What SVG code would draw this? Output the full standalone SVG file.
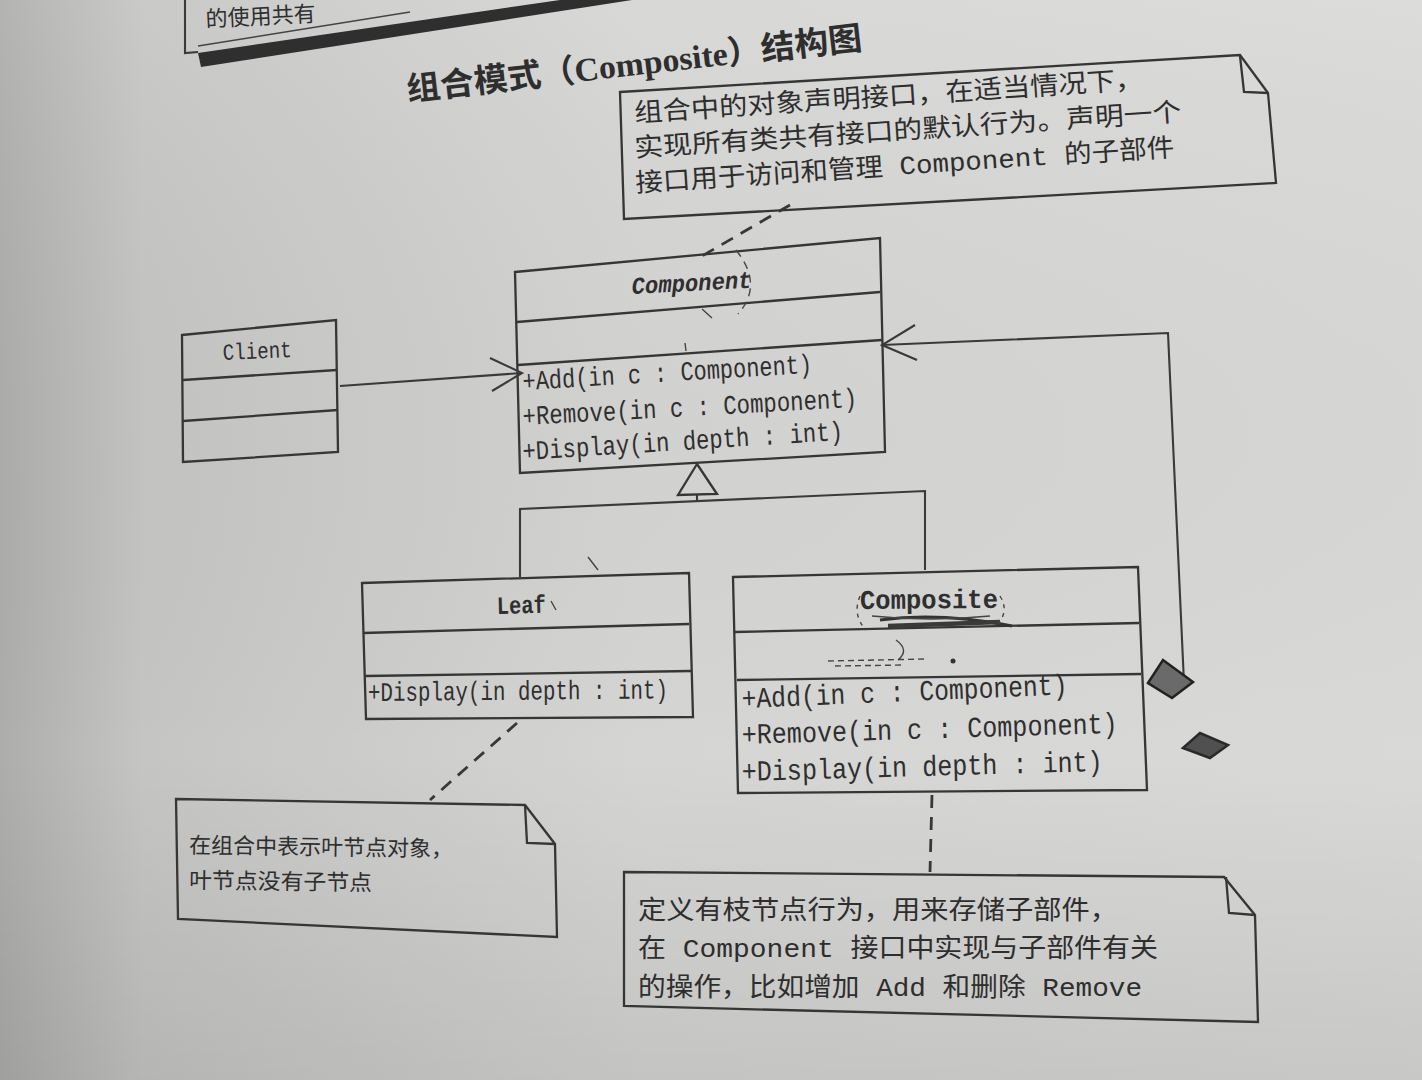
<svg xmlns="http://www.w3.org/2000/svg" width="1422" height="1080" viewBox="0 0 1422 1080">
<defs>
  <linearGradient id="paper" x1="0" y1="0" x2="1" y2="0">
    <stop offset="0" stop-color="#adadab"/>
    <stop offset="0.1" stop-color="#c5c5c3"/>
    <stop offset="0.45" stop-color="#d5d5d3"/>
    <stop offset="1" stop-color="#d9d9d7"/>
  </linearGradient>
  <linearGradient id="shade" x1="0" y1="0" x2="0" y2="1">
    <stop offset="0" stop-color="#ffffff" stop-opacity="0.08"/>
    <stop offset="0.7" stop-color="#000000" stop-opacity="0"/>
    <stop offset="1" stop-color="#000000" stop-opacity="0.08"/>
  </linearGradient>
  <style>
    .edge{fill:none;stroke:#363636;stroke-width:2.3;stroke-linejoin:miter}
    .wire{fill:none;stroke:#3a3a3a;stroke-width:2.1}
    .dash{fill:none;stroke:#383838;stroke-width:2.8;stroke-dasharray:13 9}
    .mono{font-family:"Liberation Mono","Noto Sans CJK SC",monospace;fill:#2f2f2f}
    .memo{font-family:"Liberation Mono","Noto Sans CJK SC",monospace;fill:#2e2e2e}
    .pen{fill:none;stroke:#444444;stroke-width:1.4}
  </style>
</defs>

<!-- page -->
<rect width="1422" height="1080" fill="url(#paper)"/>
<rect width="1422" height="1080" fill="url(#shade)"/>

<!-- header remnant at the top of the page -->
<g id="header">
  <path class="wire" d="M185,0 L185,53 L198,52"/>
  <polygon points="198,53 560,0 632,0 201,67" fill="#2f2f2f"/>
  <path class="pen" d="M198,46 Q300,30 410,12"/>
  <text class="memo" x="206" y="27" font-size="22" fill="#444" transform="rotate(-3 206 27)">的使用共有</text>
</g>

<!-- title -->
<g id="title">
  <text x="408" y="101" font-size="33" font-weight="bold" fill="#2e2e2e" textLength="458" lengthAdjust="spacingAndGlyphs" transform="rotate(-6.5 408 101)" font-family="'Noto Sans CJK SC',sans-serif">组合模式（<tspan font-family="'Liberation Serif',serif">Composite</tspan>）结构图</text>
</g>

<!-- note for Component -->
<g id="note-component">
  <path class="edge" d="M620,92 L1240,55 L1268,93 L1276,183 L624,219 Z"/>
  <path class="edge" d="M1240,56 L1244,92 L1268,93"/>
  <g class="memo" font-size="26">
    <text x="635" y="122" textLength="510" lengthAdjust="spacingAndGlyphs" transform="rotate(-3.8 635 122)">组合中的对象声明接口，在适当情况下，</text>
    <text x="635" y="157" textLength="548" lengthAdjust="spacingAndGlyphs" transform="rotate(-3.8 635 157)">实现所有类共有接口的默认行为。声明一个</text>
    <text x="636" y="192" textLength="540" lengthAdjust="spacingAndGlyphs" transform="rotate(-3.8 636 192)">接口用于访问和管理 Component 的子部件</text>
  </g>
</g>

<!-- Component (abstract) -->
<g id="component">
  <polygon class="edge" points="515,272 880,238 885,452 520,473"/>
  <line class="edge" x1="517" y1="322" x2="880" y2="292"/>
  <line class="edge" x1="518" y1="365" x2="882" y2="340"/>
  <text class="mono" x="632" y="294" font-size="24" font-style="italic" font-weight="bold" textLength="120" lengthAdjust="spacingAndGlyphs" transform="rotate(-3 632 294)">Component</text>
  <g class="mono" font-size="27">
    <text x="523" y="390" textLength="290" lengthAdjust="spacingAndGlyphs" transform="rotate(-3.4 523 390)">+Add(in c : Component)</text>
    <text x="523" y="425" textLength="335" lengthAdjust="spacingAndGlyphs" transform="rotate(-3.1 523 425)">+Remove(in c : Component)</text>
    <text x="523" y="460" textLength="321" lengthAdjust="spacingAndGlyphs" transform="rotate(-3.6 523 460)">+Display(in depth : int)</text>
  </g>
  <path class="pen" stroke-dasharray="8 6" d="M736,250 Q764,285 738,314"/>
  <path class="pen" d="M702,309 L712,318 M685,343 L686,351"/>
</g>

<!-- Client -->
<g id="client">
  <polygon class="edge" points="182,335 336,320 338,452 183,462"/>
  <line class="edge" x1="183" y1="380" x2="337" y2="370"/>
  <line class="edge" x1="183" y1="421" x2="338" y2="410"/>
  <text class="mono" x="223" y="360" font-size="23" textLength="69" lengthAdjust="spacingAndGlyphs" transform="rotate(-2.5 223 360)">Client</text>
</g>

<!-- Leaf -->
<g id="leaf">
  <polygon class="edge" points="362,583 689,573 693,717 366,719"/>
  <line class="edge" x1="363" y1="633" x2="689" y2="624"/>
  <line class="edge" x1="365" y1="676" x2="691" y2="671"/>
  <text class="mono" x="497" y="614" font-size="25" font-weight="bold" textLength="49" lengthAdjust="spacingAndGlyphs" transform="rotate(-1.5 497 614)">Leaf</text>
  <text class="mono" x="368" y="701" font-size="27" textLength="300" lengthAdjust="spacingAndGlyphs" transform="rotate(-0.5 368 701)">+Display(in depth : int)</text>
  <path class="pen" d="M551,601 L556,610 M588,557 L598,570"/>
</g>

<!-- Composite -->
<g id="composite">
  <polygon class="edge" points="733,577 1138,567 1147,790 738,793"/>
  <line class="edge" x1="735" y1="632" x2="1139" y2="623"/>
  <line class="edge" x1="737" y1="680" x2="1141" y2="674"/>
  <text class="mono" x="860" y="609" font-size="27" font-weight="bold" textLength="138" lengthAdjust="spacingAndGlyphs" transform="rotate(-0.5 860 609)">Composite</text>
  <g class="mono" font-size="29">
    <text x="742" y="708" textLength="326" lengthAdjust="spacingAndGlyphs" transform="rotate(-2.4 742 708)">+Add(in c : Component)</text>
    <text x="742" y="744" textLength="376" lengthAdjust="spacingAndGlyphs" transform="rotate(-1.7 742 744)">+Remove(in c : Component)</text>
    <text x="742" y="781" textLength="361" lengthAdjust="spacingAndGlyphs" transform="rotate(-1.6 742 781)">+Display(in depth : int)</text>
  </g>
  <!-- pen scribbles over the name -->
  <path d="M880,620 Q940,612 1012,626" fill="none" stroke="#333" stroke-width="3"/>
  <path d="M888,626 L1000,622" fill="none" stroke="#3a3a3a" stroke-width="4.5"/>
  <path d="M872,616 Q930,622 990,616" fill="none" stroke="#444" stroke-width="1.6"/>
  <path class="pen" stroke-dasharray="4 5" d="M860,596 Q852,615 866,630 M1000,596 Q1010,612 996,626"/>
  <path class="pen" stroke-dasharray="6 4" d="M828,661 L925,659 M835,666 L905,665"/>
  <path class="pen" d="M896,640 Q910,650 898,660"/>
  <circle cx="953" cy="661" r="2.5" fill="#333"/>
</g>

<!-- note for Leaf -->
<g id="note-leaf">
  <path class="edge" d="M176,799 L525,805 L555,844 L557,937 L178,919 Z"/>
  <path class="edge" d="M525,805 L527,843 L555,844"/>
  <g class="memo" font-size="22">
    <text x="189" y="853" textLength="264" lengthAdjust="spacingAndGlyphs" transform="rotate(0.8 189 853)">在组合中表示叶节点对象，</text>
    <text x="189" y="888" textLength="183" lengthAdjust="spacingAndGlyphs" transform="rotate(0.8 189 888)">叶节点没有子节点</text>
  </g>
</g>

<!-- note for Composite -->
<g id="note-composite">
  <path class="edge" d="M624,872 L1224,877 L1255,915 L1258,1022 L624,1006 Z"/>
  <path class="edge" d="M1226,877 L1229,913 L1255,915"/>
  <g class="memo" font-size="26">
    <text x="638" y="919" textLength="480" lengthAdjust="spacingAndGlyphs">定义有枝节点行为，用来存储子部件，</text>
    <text x="638" y="957" textLength="520" lengthAdjust="spacingAndGlyphs">在 Component 接口中实现与子部件有关</text>
    <text x="638" y="996" textLength="504" lengthAdjust="spacingAndGlyphs">的操作，比如增加 Add 和删除 Remove</text>
  </g>
</g>

<!-- connectors -->
<g id="connectors">
  <!-- generalization: Leaf, Composite -> Component -->
  <path class="wire" d="M520,577 L520,509 L925,491 L925,570"/>
  <line class="wire" x1="697" y1="495" x2="697" y2="501"/>
  <polygon class="edge" points="697,464 678,495 717,494"/>
  <!-- association: Client -> Component -->
  <line class="wire" x1="340" y1="386" x2="522" y2="373"/>
  <path class="wire" d="M490,358 L522,373 L492,391"/>
  <!-- aggregation: Composite -> Component -->
  <path class="wire" d="M1184,683 L1168,333 L882,345"/>
  <path class="wire" d="M915,325 L882,345 L917,360"/>
  <polygon points="1148,683 1163,660 1193,682 1172,698" fill="#6a6a6a" stroke="#222" stroke-width="2.5"/>
  <polygon points="1183,748 1200,733 1228,745 1210,758" fill="#505050" stroke="#2a2a2a" stroke-width="2.5"/>
  <!-- note anchors -->
  <line class="dash" x1="790" y1="205" x2="702" y2="256"/>
  <line class="dash" x1="517" y1="723" x2="430" y2="800"/>
  <line class="dash" x1="932" y1="795" x2="930" y2="872"/>
</g>
</svg>
